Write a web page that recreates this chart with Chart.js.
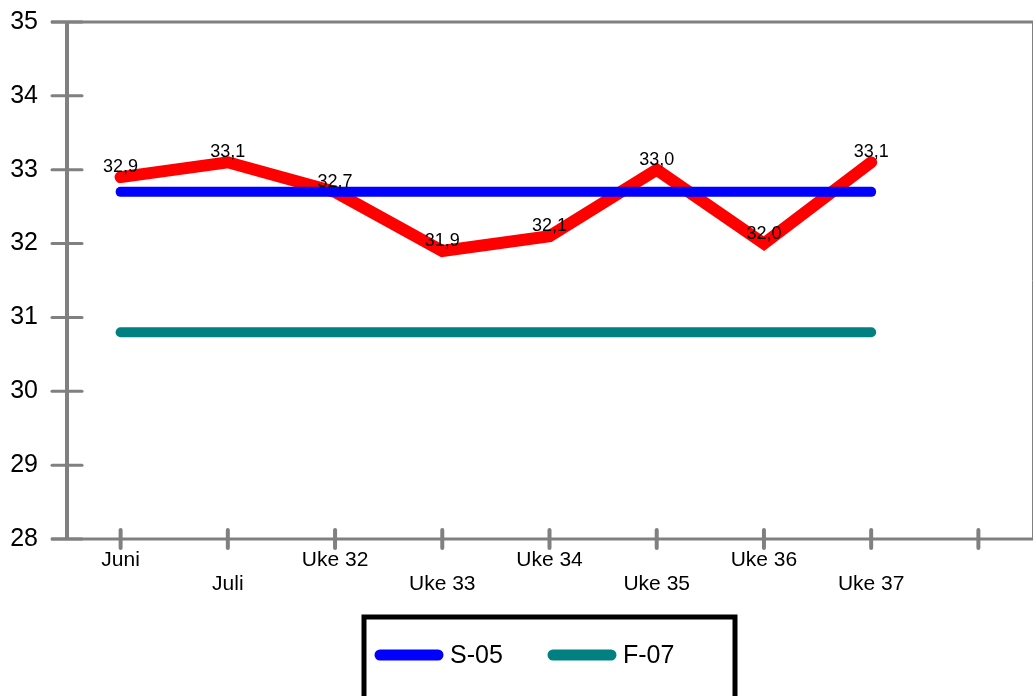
<!DOCTYPE html>
<html>
<head>
<meta charset="utf-8">
<script src="https://cdn.jsdelivr.net/npm/chart.js@4"></script>
<style>
  html, body { margin: 0; padding: 0; background: #fff; }
  #wrap { width: 1033px; height: 696px; }
</style>
</head>
<body>
<div id="wrap"><canvas id="chart" width="1033" height="696"></canvas></div>
<script>
// categories (last slot is left empty, alternate labels drop one row)
const categories = ['Juni', 'Juli', 'Uke 32', 'Uke 33', 'Uke 34', 'Uke 35', 'Uke 36', 'Uke 37', ''];
const measured = [32.9, 33.1, 32.7, 31.9, 32.1, 33.0, 32.0, 33.1];
const s05 = [32.7, 32.7, 32.7, 32.7, 32.7, 32.7, 32.7, 32.7];
const f07 = [30.8, 30.8, 30.8, 30.8, 30.8, 30.8, 30.8, 30.8];
const yTicks = [28, 29, 30, 31, 32, 33, 34, 35];

const axisGrey = '#808080';
const font = 'Liberation Sans, Arial, sans-serif';

// axes, tick marks, value labels and boxed legend
const decor = {
    id: 'decor',
    beforeDatasetsDraw(chart) {
        const ctx = chart.ctx;
        const x = chart.scales.x, y = chart.scales.y;
        const area = chart.chartArea;
        ctx.save();
        ctx.strokeStyle = axisGrey;
        // top frame line and thin right edge
        ctx.lineWidth = 3;
        ctx.beginPath();
        ctx.moveTo(51, area.top);
        ctx.lineTo(1033, area.top);
        ctx.stroke();
        ctx.lineWidth = 1;
        ctx.beginPath();
        ctx.moveTo(1032.5, area.top);
        ctx.lineTo(1032.5, area.bottom);
        ctx.stroke();
        // y axis
        ctx.lineWidth = 4;
        ctx.beginPath();
        ctx.moveTo(area.left, area.top);
        ctx.lineTo(area.left, area.bottom);
        ctx.stroke();
        ctx.lineWidth = 3;
        ctx.lineCap = 'round';
        yTicks.forEach(v => {
            const py = y.getPixelForValue(v);
            ctx.beginPath();
            ctx.moveTo(area.left - 15, py);
            ctx.lineTo(area.left + 15, py);
            ctx.stroke();
        });
        // x axis
        ctx.lineCap = 'butt';
        ctx.beginPath();
        ctx.moveTo(51, area.bottom);
        ctx.lineTo(1033, area.bottom);
        ctx.stroke();
        ctx.lineWidth = 4;
        ctx.lineCap = 'round';
        categories.forEach((c, i) => {
            const px = x.getPixelForValue(i);
            ctx.beginPath();
            ctx.moveTo(px, area.bottom - 9);
            ctx.lineTo(px, area.bottom + 9);
            ctx.stroke();
        });
        ctx.restore();
    },
    afterDatasetsDraw(chart) {
        const ctx = chart.ctx;
        const meta = chart.getDatasetMeta(2);
        ctx.save();
        ctx.fillStyle = '#000';
        ctx.font = '18px ' + font;
        ctx.textAlign = 'center';
        ctx.textBaseline = 'bottom';
        meta.data.forEach((pt, i) => {
            const txt = measured[i].toFixed(1).replace('.', ',');
            ctx.fillText(txt, pt.x, pt.y - 1);
        });

        // legend box
        ctx.strokeStyle = '#000';
        ctx.lineWidth = 5;
        ctx.strokeRect(364, 617, 371, 84);
        const items = [chart.data.datasets[0], chart.data.datasets[1]];
        const starts = [380, 553];
        ctx.font = '25px ' + font;
        ctx.textAlign = 'left';
        ctx.textBaseline = 'middle';
        items.forEach((ds, i) => {
            const sx = starts[i];
            ctx.strokeStyle = ds.borderColor;
            ctx.lineWidth = 11;
            ctx.lineCap = 'round';
            ctx.beginPath();
            ctx.moveTo(sx, 655);
            ctx.lineTo(sx + 58, 655);
            ctx.stroke();
            ctx.fillStyle = '#000';
            ctx.fillText(ds.label, sx + 70, 656);
        });
        ctx.restore();
    }
};

const labels = categories.map((c, i) => (i % 2 === 1 ? ['', c] : [c]));

new Chart(document.getElementById('chart'), {
    type: 'line',
    data: {
        labels: labels,
        datasets: [
            {
                label: 'S-05',
                data: s05,
                borderColor: '#0000ff',
                borderWidth: 10,
                borderCapStyle: 'round',
                pointRadius: 0
            },
            {
                label: 'F-07',
                data: f07,
                borderColor: '#008080',
                borderWidth: 10,
                borderCapStyle: 'round',
                pointRadius: 0
            },
            {
                label: 'Temperatur',
                data: measured,
                borderColor: '#ff0000',
                borderWidth: 12,
                borderCapStyle: 'round',
                borderJoinStyle: 'miter',
                pointRadius: 0
            }
        ]
    },
    options: {
        responsive: false,
        animation: false,
        layout: { padding: { top: 22, right: 1, left: 0, bottom: 0 } },
        plugins: {
            legend: { display: false },
            tooltip: { enabled: false }
        },
        scales: {
            x: {
                offset: true,
                grid: { display: false, drawTicks: false },
                border: { display: false },
                ticks: {
                    color: '#000',
                    font: { family: font, size: 21, lineHeight: 1.15 },
                    padding: 9,
                    maxRotation: 0,
                    autoSkip: false
                },
                afterFit(scale) {
                    scale.height = 157;
                    scale.paddingLeft = 0;
                    scale.paddingRight = 0;
                }
            },
            y: {
                min: 28,
                max: 35,
                grid: { display: false, drawTicks: false },
                border: { display: false },
                ticks: {
                    stepSize: 1,
                    color: '#000',
                    font: { family: font, size: 25 },
                    padding: 29
                },
                afterFit(scale) {
                    scale.width = 67;
                    scale.paddingTop = 0;
                    scale.paddingBottom = 0;
                }
            }
        }
    },
    plugins: [decor]
});
</script>
</body>
</html>
